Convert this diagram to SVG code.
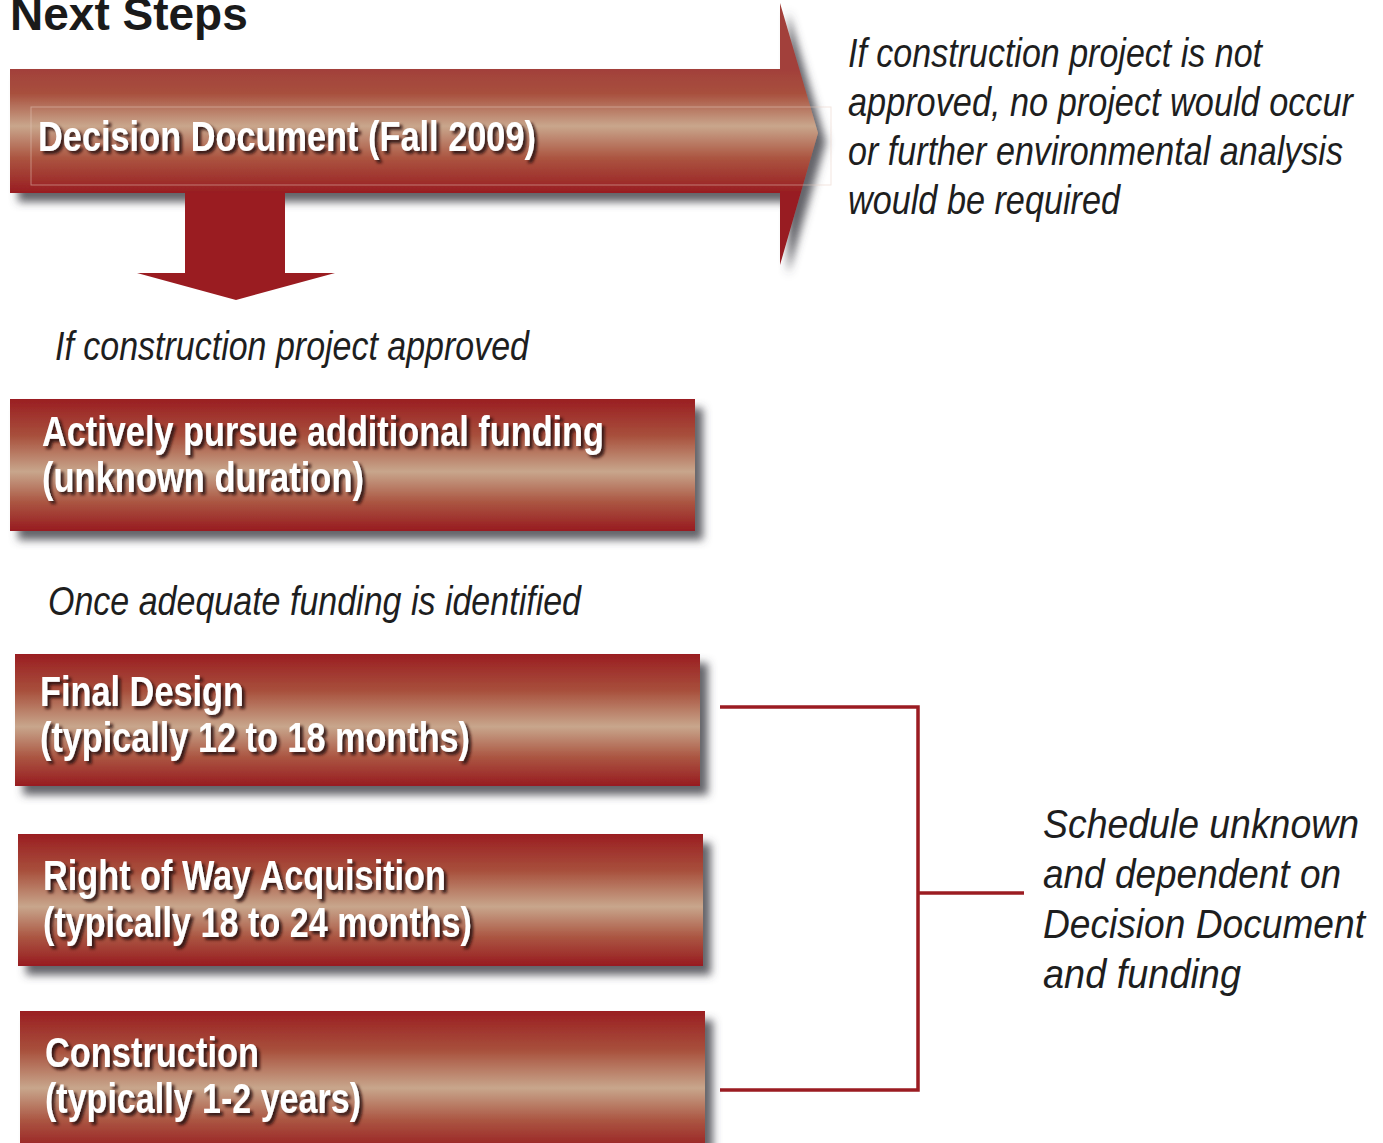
<svg xmlns="http://www.w3.org/2000/svg" width="1383" height="1143" viewBox="0 0 1383 1143">
  <style>
    .title { font-family: "Liberation Sans", Arial, sans-serif; font-weight: bold; font-size: 46px; fill: #1a1a1a; }
    .box-text { font-family: "Liberation Sans Narrow", "Liberation Sans", Arial, sans-serif; font-weight: bold; font-size: 42px; fill: #ffffff; }
    .note { font-family: "Liberation Sans Narrow", "Liberation Sans", Arial, sans-serif; font-style: italic; font-size: 41px; fill: #1e1e1e; }
    .bracket { fill: none; stroke: #9b1c22; stroke-width: 3.5; }
  </style>
  <defs>
    <linearGradient id="boxFill" x1="0" y1="0" x2="0" y2="1">
      <stop offset="0" stop-color="#9a1e22"/>
      <stop offset="0.28" stop-color="#a8503c"/>
      <stop offset="0.55" stop-color="#c8a68c"/>
      <stop offset="0.78" stop-color="#ab5642"/>
      <stop offset="1" stop-color="#971b20"/>
    </linearGradient>
    <linearGradient id="arrowFill" gradientUnits="userSpaceOnUse" x1="0" y1="69" x2="0" y2="193">
      <stop offset="0" stop-color="#a2403a"/>
      <stop offset="0.2" stop-color="#a8503e"/>
      <stop offset="0.46" stop-color="#c9a68c"/>
      <stop offset="0.72" stop-color="#ab5440"/>
      <stop offset="1" stop-color="#981c21"/>
    </linearGradient>
    <filter id="dropShadow" x="-5%" y="-10%" width="115%" height="130%">
      <feDropShadow dx="8" dy="9" stdDeviation="4" flood-color="#4a4a50" flood-opacity="0.85"/>
    </filter>
    <filter id="textShadow" x="-5%" y="-20%" width="110%" height="150%">
      <feDropShadow dx="3" dy="3" stdDeviation="1.5" flood-color="#2a0a08" flood-opacity="0.9"/>
    </filter>
  </defs>

  <text class="title" x="10" y="30">Next Steps</text>

  <!-- decision document arrow -->
  <g id="decision-document">
    <path d="M10,69 H780 V3 L818,133 L780,265 V193 H10 Z" fill="url(#arrowFill)" filter="url(#dropShadow)"/>
    <rect x="31" y="107" width="800" height="78" fill="none" stroke="#e8cdbf" stroke-width="1" stroke-opacity="0.5"/>
    <text class="box-text" x="38" y="151" textLength="498" lengthAdjust="spacingAndGlyphs" filter="url(#textShadow)">Decision Document (Fall 2009)</text>
  </g>

  <g id="not-approved-note">
    <text class="note" x="848" y="67" textLength="414" lengthAdjust="spacingAndGlyphs">If construction project is not</text>
    <text class="note" x="848" y="116" textLength="505" lengthAdjust="spacingAndGlyphs">approved, no project would occur</text>
    <text class="note" x="848" y="165" textLength="495" lengthAdjust="spacingAndGlyphs">or further environmental analysis</text>
    <text class="note" x="848" y="214" textLength="272" lengthAdjust="spacingAndGlyphs">would be required</text>
  </g>

  <g id="connectors">
    <!-- downward arrow out of the decision document -->
    <path d="M185,193 H285 V273 H335 L236,300 L137,273 H185 Z" fill="#9a1c21"/>
    <!-- bracket grouping the three phases -->
    <path class="bracket" d="M720,707 H918 V1090 H720"/>
    <path class="bracket" d="M918,893 H1024"/>
  </g>

  <text class="note" x="55" y="360" textLength="474" lengthAdjust="spacingAndGlyphs">If construction project approved</text>

  <g id="funding">
    <rect x="10" y="399" width="685" height="132" fill="url(#boxFill)" filter="url(#dropShadow)"/>
    <text class="box-text" x="42" y="446" textLength="562" lengthAdjust="spacingAndGlyphs" filter="url(#textShadow)">Actively pursue additional funding</text>
    <text class="box-text" x="42" y="492" textLength="322" lengthAdjust="spacingAndGlyphs" filter="url(#textShadow)">(unknown duration)</text>
  </g>

  <text class="note" x="48" y="615" textLength="533" lengthAdjust="spacingAndGlyphs">Once adequate funding is identified</text>

  <g id="final-design">
    <rect x="15" y="654" width="685" height="132" fill="url(#boxFill)" filter="url(#dropShadow)"/>
    <text class="box-text" x="40" y="706" textLength="204" lengthAdjust="spacingAndGlyphs" filter="url(#textShadow)">Final Design</text>
    <text class="box-text" x="40" y="752" textLength="430" lengthAdjust="spacingAndGlyphs" filter="url(#textShadow)">(typically 12 to 18 months)</text>
  </g>

  <g id="right-of-way">
    <rect x="18" y="834" width="685" height="132" fill="url(#boxFill)" filter="url(#dropShadow)"/>
    <text class="box-text" x="43" y="890" textLength="403" lengthAdjust="spacingAndGlyphs" filter="url(#textShadow)">Right of Way Acquisition</text>
    <text class="box-text" x="43" y="937" textLength="429" lengthAdjust="spacingAndGlyphs" filter="url(#textShadow)">(typically 18 to 24 months)</text>
  </g>

  <g id="construction">
    <rect x="20" y="1011" width="685" height="140" fill="url(#boxFill)" filter="url(#dropShadow)"/>
    <text class="box-text" x="45" y="1067" textLength="214" lengthAdjust="spacingAndGlyphs" filter="url(#textShadow)">Construction</text>
    <text class="box-text" x="45" y="1113" textLength="316" lengthAdjust="spacingAndGlyphs" filter="url(#textShadow)">(typically 1-2 years)</text>
  </g>

  <g id="schedule-note">
    <text class="note" x="1043" y="838" textLength="316" lengthAdjust="spacingAndGlyphs">Schedule unknown</text>
    <text class="note" x="1043" y="888" textLength="298" lengthAdjust="spacingAndGlyphs">and dependent on</text>
    <text class="note" x="1043" y="938" textLength="322" lengthAdjust="spacingAndGlyphs">Decision Document</text>
    <text class="note" x="1043" y="988" textLength="198" lengthAdjust="spacingAndGlyphs">and funding</text>
  </g>
</svg>
